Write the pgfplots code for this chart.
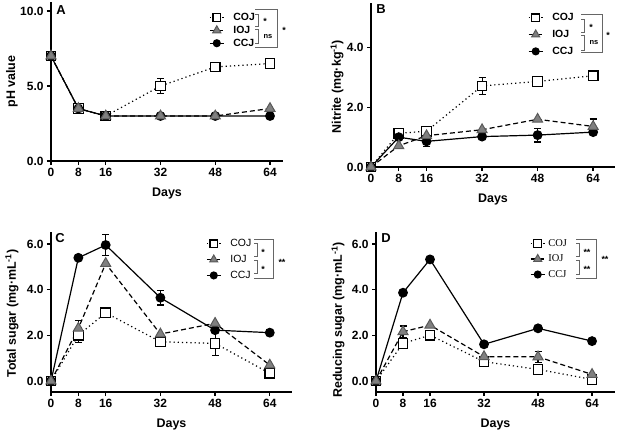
\documentclass[border=0pt]{standalone}
\usepackage{fontspec}
\setmainfont{Liberation Sans}
\newfontfamily\serifleg{Liberation Serif}
\usepackage{pgfplots}
\pgfplotsset{compat=1.18}

\pgfplotsset{
  panel/.style={
    scale only axis, clip=false,
    axis x line*=bottom, axis y line*=left,
    axis line style={line width=1.3bp,-},
    tick align=outside, major tick length=4bp,
    every tick/.style={line width=1.3bp,black},
    xmin=0, xtick={0,8,16,32,48,64},
    /pgf/number format/assume math mode=true,
    tick label style={font=\bfseries\fontsize{12}{14}\selectfont},
    yticklabel style={/pgf/number format/fixed,/pgf/number format/fixed zerofill,/pgf/number format/precision=1},
    label style={font=\bfseries\fontsize{12.5}{15}\selectfont},
    xlabel=Days, xlabel style={yshift=-4bp},
    legend cell align=left,
    legend image code/.code={\draw[mark repeat=2,mark phase=2,#1,every mark/.append style={scale=0.8}]
      plot coordinates {(0bp,0bp) (7bp,0bp) (14bp,0bp)};},
    legend style={draw=none,fill=none,anchor=north west,inner sep=0pt,column sep=7bp,
      font=\bfseries\fontsize{10.5}{11}\selectfont,row sep=0bp},
  },
  coj/.style={black,line width=1.2bp,dash pattern=on 1.2bp off 3bp,
    mark=square*,mark size=4.8bp,mark options={solid,fill=white,line width=1.2bp}},
  ioj/.style={black,line width=1.2bp,dash pattern=on 5bp off 3bp,
    mark=triangle*,mark size=5.8bp,mark options={solid,fill=black!50,draw=black!65,line width=1bp}},
  ccj/.style={black,line width=1.2bp,solid,
    mark=*,mark size=4.3bp,mark options={solid,fill=black}},
  eb/.style={error bars/y dir=both,error bars/y explicit,
    error bars/error bar style={line width=1.1bp,solid,black},
    error bars/error mark options={rotate=90,mark size=3.5bp,line width=1.1bp,solid,black}},
}

\begin{document}
\begin{tikzpicture}
\useasboundingbox (0,0) rectangle (618bp,-434bp);

% ---- A ----
\begin{axis}[panel,at={(51bp,-161bp)},anchor=south west,width=232bp,height=159bp,
  xmax=67.8,ymin=0,ymax=10.6,ytick={0,5,10},ylabel={pH value},
  ylabel style={at={(axis description cs:-0.168,0.5)},anchor=center},
  legend style={at={(0.681,0.943)}}]
\addlegendimage{coj}
\addlegendimage{ioj}
\addlegendimage{ccj}
\legend{COJ,IOJ,CCJ}
\addplot[forget plot,coj,eb] coordinates {(0,7) (8,3.5) (16,3) (32,5) +- (0,0.5) (48,6.27) +- (0,0.1) (64,6.5)};
\addplot[forget plot,ccj] coordinates {(0,7) (8,3.5) (16,3) (32,3) (48,3) (64,3)};
\addplot[forget plot,ioj] coordinates {(0,7) (8,3.5) (16,3) (32,3) (48,3) (64,3.5)};
\end{axis}

% ---- B ----
\begin{axis}[panel,at={(371bp,-167bp)},anchor=south west,width=244bp,height=164bp,
  xmax=70.3,ymin=0,ymax=5.5,ytick={0,2,4},ylabel={Nitrite (mg·kg\textsuperscript{-1})},
  ylabel style={at={(axis description cs:-0.139,0.49)},anchor=center},
  legend style={at={(0.643,0.95)},row sep=4bp}]
\addlegendimage{coj}
\addlegendimage{ioj}
\addlegendimage{ccj}
\legend{COJ,IOJ,CCJ}
\addplot[forget plot,coj,eb] coordinates {(0,0) (8,1.13) (16,1.2) +- (0,0.1) (32,2.72) +- (0,0.28) (48,2.87) (64,3.06)};
\addplot[forget plot,ccj,eb] coordinates {(0,0) (8,1.0) (16,0.86) +- (0,0.17) (32,1.02) (48,1.07) +- (0,0.23) (64,1.17)};
\addplot[forget plot,ioj,eb] coordinates {(0,0) (8,0.71) (16,1.05) (32,1.25) (48,1.6) (64,1.36) +- (0,0.25)};
\end{axis}

% ---- C ----
\begin{axis}[panel,at={(51bp,-392bp)},anchor=south west,width=241bp,height=160bp,
  xmax=70.5,ymin=-0.48,ymax=6.53,ytick={0,2,4,6},ylabel={Total sugar (mg·mL\textsuperscript{-1})},
  ylabel style={at={(axis description cs:-0.162,0.49)},anchor=center},
  legend style={at={(0.643,0.967)},row sep=3bp,font=\fontsize{10.5}{11}\selectfont}]
\addlegendimage{coj}
\addlegendimage{ioj}
\addlegendimage{ccj}
\legend{COJ,IOJ,CCJ}
\addplot[forget plot,coj,eb] coordinates {(0,0) (8,2.01) +- (0,0.33) (16,2.99) (32,1.72) (48,1.65) +- (0,0.55) (64,0.34)};
\addplot[forget plot,ccj,eb] coordinates {(0,0) (8,5.40) (16,5.96) +- (0,0.45) (32,3.65) +- (0,0.32) (48,2.23) (64,2.12)};
\addplot[forget plot,ioj,eb] coordinates {(0,0) (8,2.31) +- (0,0.35) (16,5.15) (32,2.06) (48,2.53) (64,0.70)};
\end{axis}

% ---- D ----
\begin{axis}[panel,at={(376bp,-392bp)},anchor=south west,width=239bp,height=160bp,
  xmax=70.8,ymin=-0.48,ymax=6.53,ytick={0,2,4,6},ylabel={Reducing sugar (mg·mL\textsuperscript{-1})},
  ylabel style={at={(axis description cs:-0.159,0.45)},anchor=center},
  legend style={at={(0.644,0.967)},row sep=3bp,column sep=1bp,font=\serifleg\fontsize{10.5}{11}\selectfont}]
\addlegendimage{coj}
\addlegendimage{ioj}
\addlegendimage{ccj}
\legend{COJ,IOJ,CCJ}
\addplot[forget plot,coj,eb] coordinates {(0,0) (8,1.65) +- (0,0.2) (16,2.01) (32,0.85) (48,0.51) (64,0.07)};
\addplot[forget plot,ccj] coordinates {(0,0) (8,3.87) (16,5.33) (32,1.61) (48,2.31) (64,1.75)};
\addplot[forget plot,ioj,eb] coordinates {(0,0) (8,2.16) +- (0,0.25) (16,2.45) (32,1.07) (48,1.06) +- (0,0.25) (64,0.29)};
\end{axis}

% ---- panel letters and significance brackets ----
\begin{scope}[x=1bp,y=-1bp,line width=0.8bp,draw=black!60]
\node[font=\bfseries\fontsize{13}{14}\selectfont] at (61,10) {A};
\node[font=\bfseries\fontsize{13}{14}\selectfont] at (381,9) {B};
\node[font=\bfseries\fontsize{13}{14}\selectfont] at (60,238) {C};
\node[font=\bfseries\fontsize{13}{14}\selectfont] at (386,238) {D};
\tikzset{sig/.style={font=\bfseries\fontsize{9}{9}\selectfont,inner sep=0pt}}
% A
\draw (255,14) -- (258,14) -- (258,26) -- (255,26);
\draw (255,29) -- (258,29) -- (258,43) -- (255,43);
\draw (255,9) -- (277,9) -- (277,47) -- (255,47);
\node[sig] at (265,21) {*};
\node[sig,font=\bfseries\fontsize{7.5}{7.5}\selectfont] at (268,37) {ns};
\node[sig] at (284,30) {*};
% B
\draw (581,19) -- (584,19) -- (584,32) -- (581,32);
\draw (581,35) -- (584,35) -- (584,50) -- (581,50);
\draw (581,14) -- (602,14) -- (602,52) -- (581,52);
\node[sig] at (591,27) {*};
\node[sig,font=\bfseries\fontsize{7.5}{7.5}\selectfont] at (594,43) {ns};
\node[sig] at (608,35) {*};
% C
\draw (254,243) -- (257,243) -- (257,256) -- (254,256);
\draw (254,260) -- (257,260) -- (257,273) -- (254,273);
\draw (254,239) -- (273,239) -- (273,278) -- (254,278);
\node[sig] at (263,252) {*};
\node[sig] at (263,269) {*};
\node[sig] at (282,262) {**};
% D
\draw (576,243) -- (579,243) -- (579,256) -- (576,256);
\draw (576,260) -- (579,260) -- (579,274) -- (576,274);
\draw (576,239) -- (596,239) -- (596,278) -- (576,278);
\node[sig] at (587,252) {**};
\node[sig] at (587,269) {**};
\node[sig] at (605,259) {**};
\end{scope}
\end{tikzpicture}
\end{document}
